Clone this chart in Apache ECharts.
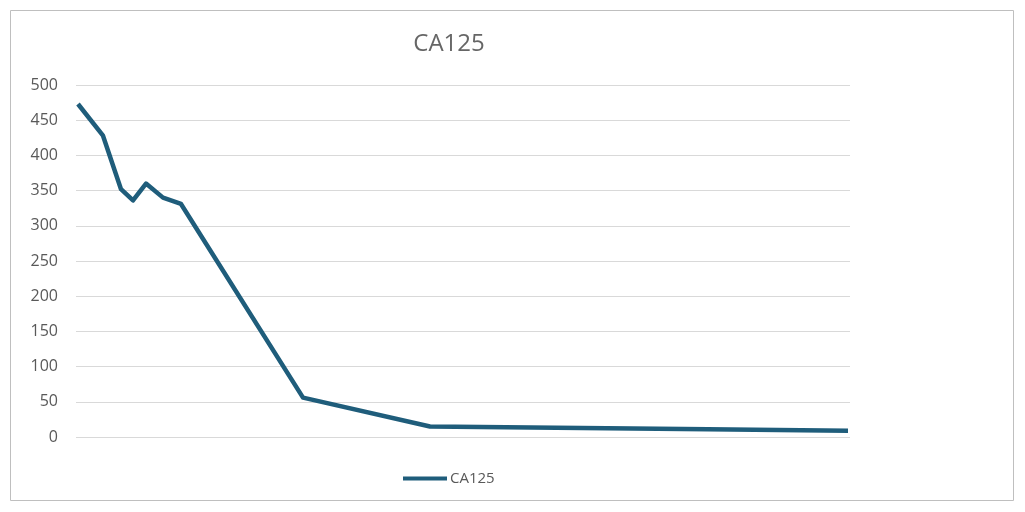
<!DOCTYPE html>
<html>
<head>
<meta charset="utf-8">
<script src="https://cdn.jsdelivr.net/npm/echarts@6/dist/echarts.min.js"></script>
<style>
  html, body { margin: 0; padding: 0; background: #fff; }
  #chart { width: 1025px; height: 512px; }
</style>
</head>
<body>
<div id="chart"></div>
<script>
// 测量时间（相对天数，按图中间距估读）与 CA125 数值
var days = [0, 25, 43, 55, 68, 85, 103, 225, 352, 630, 770];
var ca125 = [473, 428, 352, 336, 360, 340, 331, 56, 15, 11, 9];
var yTicks = [0, 50, 100, 150, 200, 250, 300, 350, 400, 450, 500];

var points = days.map(function (d, i) { return [d, ca125[i]]; });

var myChart = echarts.init(document.getElementById('chart'));
var option = {
    animation: false,
    title: {
        text: 'CA125',
        left: 444,
        textAlign: 'center',
        top: 27,
        textStyle: { color: '#666666', fontSize: 24, fontWeight: 'normal', fontFamily: 'Open Sans' }
    },
    graphic: [{
        type: 'rect',
        shape: { x: 10.5, y: 10.5, width: 1003, height: 490 },
        style: { fill: 'none', stroke: '#bfbfbf', lineWidth: 1 },
        silent: true
    }],
    legend: {
        left: 398,
        top: 466,
        itemWidth: 44,
        itemHeight: 4,
        itemGap: 4,
        icon: 'rect',
        textStyle: { color: '#595959', fontSize: 15, fontFamily: 'Open Sans', padding: [0, 0, 0, -2] },
        data: ['CA125']
    },
    grid: {
        left: 76,
        right: 1025 - 850,
        top: 85,
        bottom: 512 - 437
    },
    xAxis: {
        type: 'value',
        min: -2,
        max: 772,
        show: false
    },
    yAxis: {
        type: 'value',
        min: 0,
        max: 500,
        interval: 50,
        axisLine: { show: false },
        axisTick: { show: false },
        axisLabel: {
            color: '#595959',
            fontSize: 16,
            fontFamily: 'Open Sans',
            margin: 18,
            formatter: function (v) { return yTicks.indexOf(v) >= 0 ? String(v) : ''; }
        },
        splitLine: { lineStyle: { color: '#d9d9d9', width: 1 } }
    },
    series: [{
        name: 'CA125',
        type: 'line',
        data: points,
        showSymbol: false,
        symbol: 'none',
        lineStyle: { color: '#1f5d7b', width: 4.5, join: 'round' },
        itemStyle: { color: '#1f5d7b' }
    }]
};
myChart.setOption(option);
</script>
</body>
</html>
